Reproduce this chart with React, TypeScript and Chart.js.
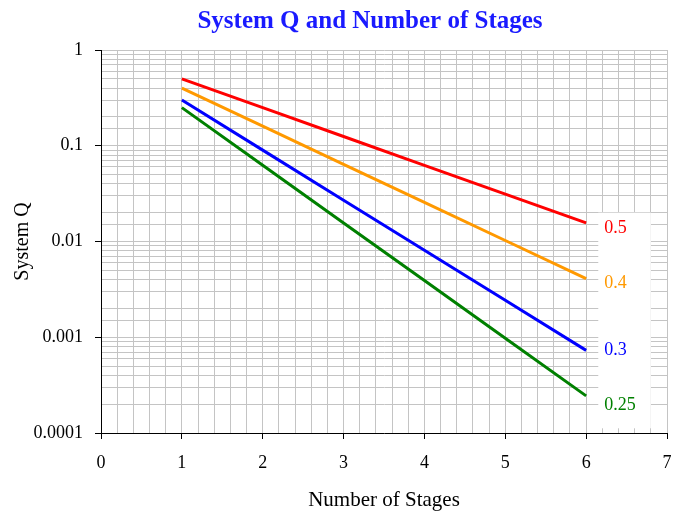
import React, { useEffect, useRef } from "react";
import { Chart, registerables } from "chart.js";

Chart.register(...registerables);

const stages = [1, 2, 3, 4, 5, 6];
const q050 = [0.5, 0.25, 0.125, 0.0625, 0.03125, 0.015625];
const q040 = [0.4, 0.16, 0.064, 0.0256, 0.01024, 0.004096];
const q030 = [0.3, 0.09, 0.027, 0.0081, 0.00243, 0.000729];
const q025 = [0.25, 0.0625, 0.015625, 0.00390625, 0.0009765625, 0.000244140625];
const seriesNames = ["0.5", "0.4", "0.3", "0.25"];
const seriesColors = ["#ff0000", "#ff9900", "#0000ff", "#008000"];
const seriesValues = [q050, q040, q030, q025];

const FONT = "'Liberation Serif', 'Times New Roman', serif";

const isWhole = (v: number) => Math.abs(v - Math.round(v)) < 1e-6;
const isDecade = (v: number) => isWhole(Math.log10(v));

const overlayPlugin = {
  id: "overlay",
  beforeDatasetsDraw(chart: any) {
    const { ctx, scales } = chart;
    const x = scales.x, y = scales.y;
    const x0 = x.getPixelForValue(6.15), x1 = x.getPixelForValue(6.8);
    const y0 = y.getPixelForValue(0.02), y1 = y.getPixelForValue(0.000112);
    ctx.save();
    ctx.fillStyle = "#ffffff";
    ctx.fillRect(x0, y0, x1 - x0, y1 - y0);
    ctx.restore();
  },
  afterDatasetsDraw(chart: any) {
    const { ctx } = chart;
    const dy = [5, 5, 0, 9];
    ctx.save();
    ctx.font = `18px ${FONT}`;
    ctx.textBaseline = "middle";
    ctx.textAlign = "left";
    chart.data.datasets.forEach((ds: any, i: number) => {
      const meta = chart.getDatasetMeta(i);
      const pt = meta.data[meta.data.length - 1];
      ctx.fillStyle = ds.borderColor;
      ctx.fillText(seriesNames[i], pt.x + 18, pt.y + dy[i]);
    });
    ctx.restore();
  },
  afterDraw(chart: any) {
    const { ctx } = chart;
    ctx.save();
    ctx.font = `bold 25px ${FONT}`;
    ctx.fillStyle = "#1a1aff";
    ctx.textAlign = "center";
    ctx.textBaseline = "middle";
    ctx.fillText("System Q and Number of Stages", 370, 22);
    ctx.restore();
  },
};

export default function App() {
  const ref = useRef<HTMLCanvasElement>(null);
  useEffect(() => {
    document.body.style.margin = "0";
    const chart = new Chart(ref.current!, {
      type: "line",
      data: {
        datasets: seriesValues.map((vals, i) => ({
          label: seriesNames[i],
          data: stages.map((s, j) => ({ x: s, y: vals[j] })),
          borderColor: seriesColors[i],
          backgroundColor: seriesColors[i],
          borderWidth: 3,
          pointRadius: 0,
          tension: 0,
        })),
      },
      options: {
        animation: false,
        responsive: true,
        maintainAspectRatio: false,
        layout: { padding: { top: 50, right: 8, left: 0, bottom: 0 } },
        plugins: { legend: { display: false }, tooltip: { enabled: false } },
        scales: {
          x: {
            type: "linear",
            min: 0,
            max: 7,
            afterFit: (s: any) => {
              s.height = 81;
              s.paddingLeft = 0;
              s.paddingRight = 0;
            },
            ticks: {
              stepSize: 0.2,
              autoSkip: false,
              maxRotation: 0,
              padding: 13,
              color: "#000",
              font: { family: FONT, size: 18 },
              callback: (v: any) => (isWhole(Number(v)) ? String(Math.round(Number(v))) : ""),
            },
            grid: {
              color: "#c4c4c4",
              lineWidth: 1,
              tickLength: 6,
              tickColor: (c: any) => (c.tick && isWhole(c.tick.value) ? "#000" : "rgba(0,0,0,0)"),
            },
            border: { color: "#000", width: 1 },
            title: {
              display: true,
              text: "Number of Stages",
              color: "#000",
              font: { family: FONT, size: 21 },
              padding: { top: 0, bottom: 1 },
            },
          },
          y: {
            type: "logarithmic",
            min: 0.0001,
            max: 1,
            afterFit: (s: any) => {
              s.width = 101;
              s.paddingTop = 0;
              s.paddingBottom = 0;
            },
            ticks: {
              autoSkip: false,
              padding: 12,
              color: "#000",
              font: { family: FONT, size: 18 },
              callback: (v: any) => (isDecade(Number(v)) ? String(Number(v)) : ""),
            },
            grid: {
              color: "#c4c4c4",
              lineWidth: 1,
              tickLength: 6,
              tickColor: (c: any) => (c.tick && isDecade(c.tick.value) ? "#000" : "rgba(0,0,0,0)"),
            },
            border: { color: "#000", width: 1 },
            title: {
              display: true,
              text: "System Q",
              color: "#000",
              font: { family: FONT, size: 20 },
              padding: { top: 11, bottom: 0 },
            },
          },
        },
      },
      plugins: [overlayPlugin],
    });
    return () => chart.destroy();
  }, []);
  return (
    <div style={{ width: 675, height: 514, position: "relative" }}>
      <canvas ref={ref} />
    </div>
  );
}
